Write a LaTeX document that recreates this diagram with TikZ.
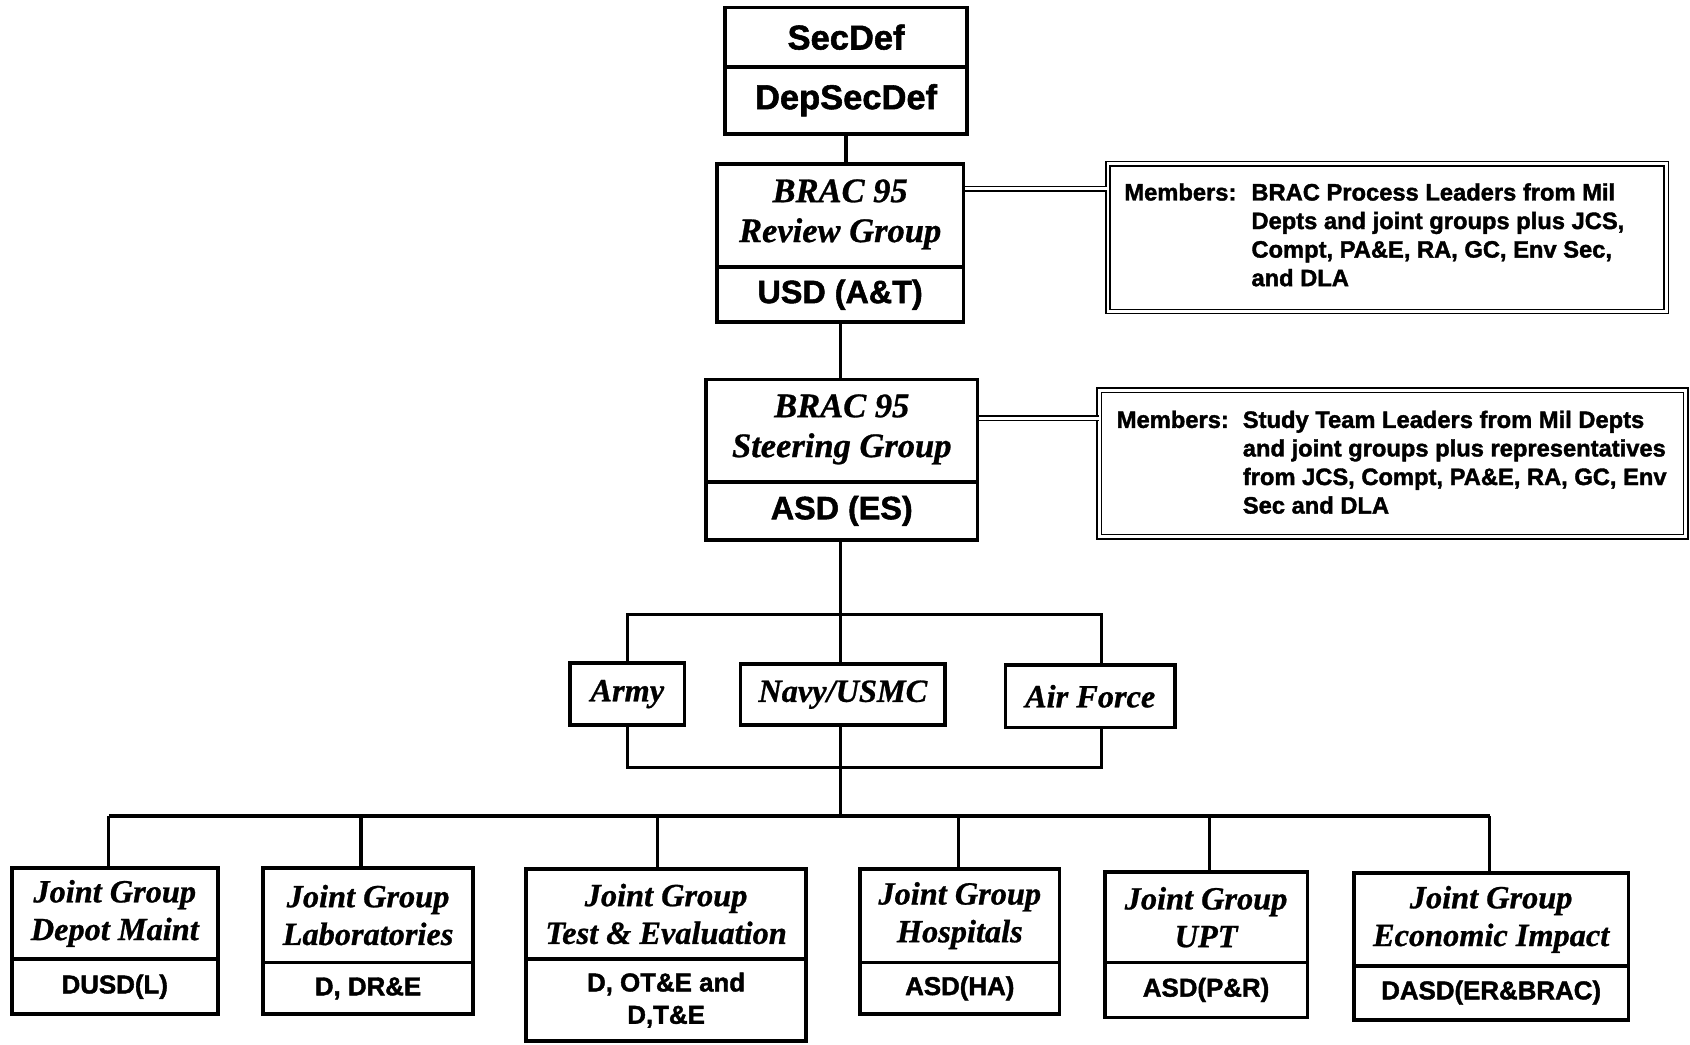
\documentclass[tikz,border=0pt]{standalone}
\usepackage{fontspec}
\setmainfont{Liberation Serif}
\newfontfamily\hv[BoldFeatures={FakeBold=1.6}]{Liberation Sans}
\newfontfamily\tm[BoldItalicFeatures={FakeBold=0.8}]{Liberation Serif}
\tikzset{
  box/.style={draw, line width=3.5pt, inner sep=0pt, align=center, fill=white},
  hvbig/.style={font=\hv\bfseries\fontsize{32}{38}\selectfont},
  hvmid/.style={font=\hv\bfseries\fontsize{30}{36}\selectfont},
  hvsmall/.style={font=\hv\bfseries\fontsize{24}{30}\selectfont},
  tmbig/.style={font=\tm\bfseries\itshape\fontsize{32}{37}\selectfont},
  tmmid/.style={font=\tm\bfseries\itshape\fontsize{30}{35}\selectfont},
  conn/.style={line width=3pt},
  dbl/.style={double, double distance=2.5pt, line width=1.5pt},
  membox/.style={draw, dbl, inner sep=0pt},
  memtext/.style={font=\hv\bfseries\fontsize{22}{26.5}\selectfont, inner sep=0pt, anchor=base west},
}
\begin{document}
\begin{tikzpicture}[x=1pt,y=-1pt]
\useasboundingbox (0,0) rectangle (1568,969);
\fill[white] (0,0) rectangle (1568,969);

% top chain
\node[box, hvbig, minimum width=224pt, minimum height=55pt] (sec) at (785,34.5) {SecDef};
\node[box, hvbig, minimum width=224pt, minimum height=62pt] (dep) at (785,93) {DepSecDef};

\node[box, tmbig, minimum width=229pt, minimum height=96pt, text depth=9pt] (review) at (779.5,200) {BRAC 95\\Review Group};
\node[box, hvmid, minimum width=229pt, minimum height=51pt] (usd) at (779.5,273.5) {USD (A\&T)};

\node[box, tmbig, minimum width=252pt, minimum height=95pt, text depth=9pt] (steer) at (781,399.5) {BRAC 95\\Steering Group};
\node[box, hvmid, minimum width=252pt, minimum height=54pt] (asd) at (781,474) {ASD (ES)};

% members boxes
\node[membox, minimum width=518pt, minimum height=137pt] (mem1) at (1287,220.5) {};
\node[memtext] (mem1t) at (1043,186) {\begin{tabular}[t]{@{}l@{\hspace{14pt}}l@{}}
Members: & BRAC Process Leaders from Mil\\
 & Depts and joint groups plus JCS,\\
 & Compt, PA\&E, RA, GC, Env Sec,\\
 & and DLA
\end{tabular}};

\node[membox, minimum width=544pt, minimum height=136pt] (mem2) at (1292,430) {};
\node[memtext] (mem2t) at (1036,397) {\begin{tabular}[t]{@{}l@{\hspace{13pt}}l@{}}
Members: & Study Team Leaders from Mil Depts\\
 & and joint groups plus representatives\\
 & from JCS, Compt, PA\&E, RA, GC, Env\\
 & Sec and DLA
\end{tabular}};

% services
\node[box, tmmid, minimum width=106pt, minimum height=58pt] (army) at (582,644) {Army};
\node[box, tmmid, minimum width=190pt, minimum height=57pt] (navy) at (782,644.5) {Navy/USMC};
\node[box, tmmid, minimum width=157pt, minimum height=58pt] (af) at (1011.5,646) {Air Force};

% joint groups
\node[box, tmmid, minimum width=191pt, minimum height=85pt] (j1) at (106.5,847.5) {Joint Group\\Depot Maint};
\node[box, hvsmall, minimum width=191pt, minimum height=51pt] (j1b) at (106.5,915.5) {DUSD(L)};
\node[box, tmmid, minimum width=195pt, minimum height=88pt] (j2) at (341.5,849) {Joint Group\\Laboratories};
\node[box, hvsmall, minimum width=195pt, minimum height=48pt] (j2b) at (341.5,917) {D, DR\&E};
\node[box, tmmid, minimum width=260pt, minimum height=84pt] (j3) at (618,848) {Joint Group\\Test \& Evaluation};
\node[box, hvsmall, minimum width=260pt, minimum height=76pt] (j3b) at (618,928) {D, OT\&E and\\D,T\&E};
\node[box, tmmid, minimum width=185pt, minimum height=87pt] (j4) at (890.5,849.5) {Joint Group\\Hospitals};
\node[box, hvsmall, minimum width=185pt, minimum height=48pt] (j4b) at (890.5,917) {ASD(HA)};
\node[box, tmmid, minimum width=188pt, minimum height=84pt] (j5) at (1119,851) {Joint Group\\UPT};
\node[box, hvsmall, minimum width=188pt, minimum height=51pt] (j5b) at (1119,918.5) {ASD(P\&R)};
\node[box, tmmid, minimum width=255pt, minimum height=86pt] (j6) at (1383.5,853) {Joint Group\\Economic Impact};
\node[box, hvsmall, minimum width=255pt, minimum height=50pt] (j6b) at (1383.5,921) {DASD(ER\&BRAC)};

% coordinates for connector bends
\coordinate (t1) at (582,570);
\coordinate (t2) at (1022,570);
\coordinate (b1) at (582,712);
\coordinate (b2) at (1022,712);
\coordinate (d1) at (101,757);
\coordinate (d2) at (335,757);
\coordinate (d3) at (610,757);
\coordinate (d4) at (889,757);
\coordinate (d5) at (1122,757);
\coordinate (d6) at (1382,757);
\coordinate (m1) at (894,175);
\coordinate (m2) at (907,388);

% connectors
\draw[conn] (dep.south) -- (dep.south |- review.north);
\draw[conn] (usd.south -| 780,0) -- (steer.north -| 780,0);
\draw[conn] (asd.south -| 780,0) -- (navy.north -| 780,0);
\draw[conn] (army.north -| t1) -- (t1) -- (t2) -- (t2 |- af.north);
\draw[conn] (army.south -| b1) -- (b1) -- (b2) -- (b2 |- af.south);
\draw[conn] (navy.south -| 780,0) -- (d1 -| 780,0);
\draw[conn] (d1) -- (d6);
\foreach \d/\j in {d1/j1, d2/j2, d3/j3, d4/j4, d5/j5, d6/j6}
  \draw[conn] (\d) -- (\d |- \j.north);
\draw[dbl] (m1 -| review.east) -- (m1 -| mem1.west);
\draw[dbl] (m2 -| steer.east) -- (m2 -| mem2.west);
\end{tikzpicture}
\end{document}
